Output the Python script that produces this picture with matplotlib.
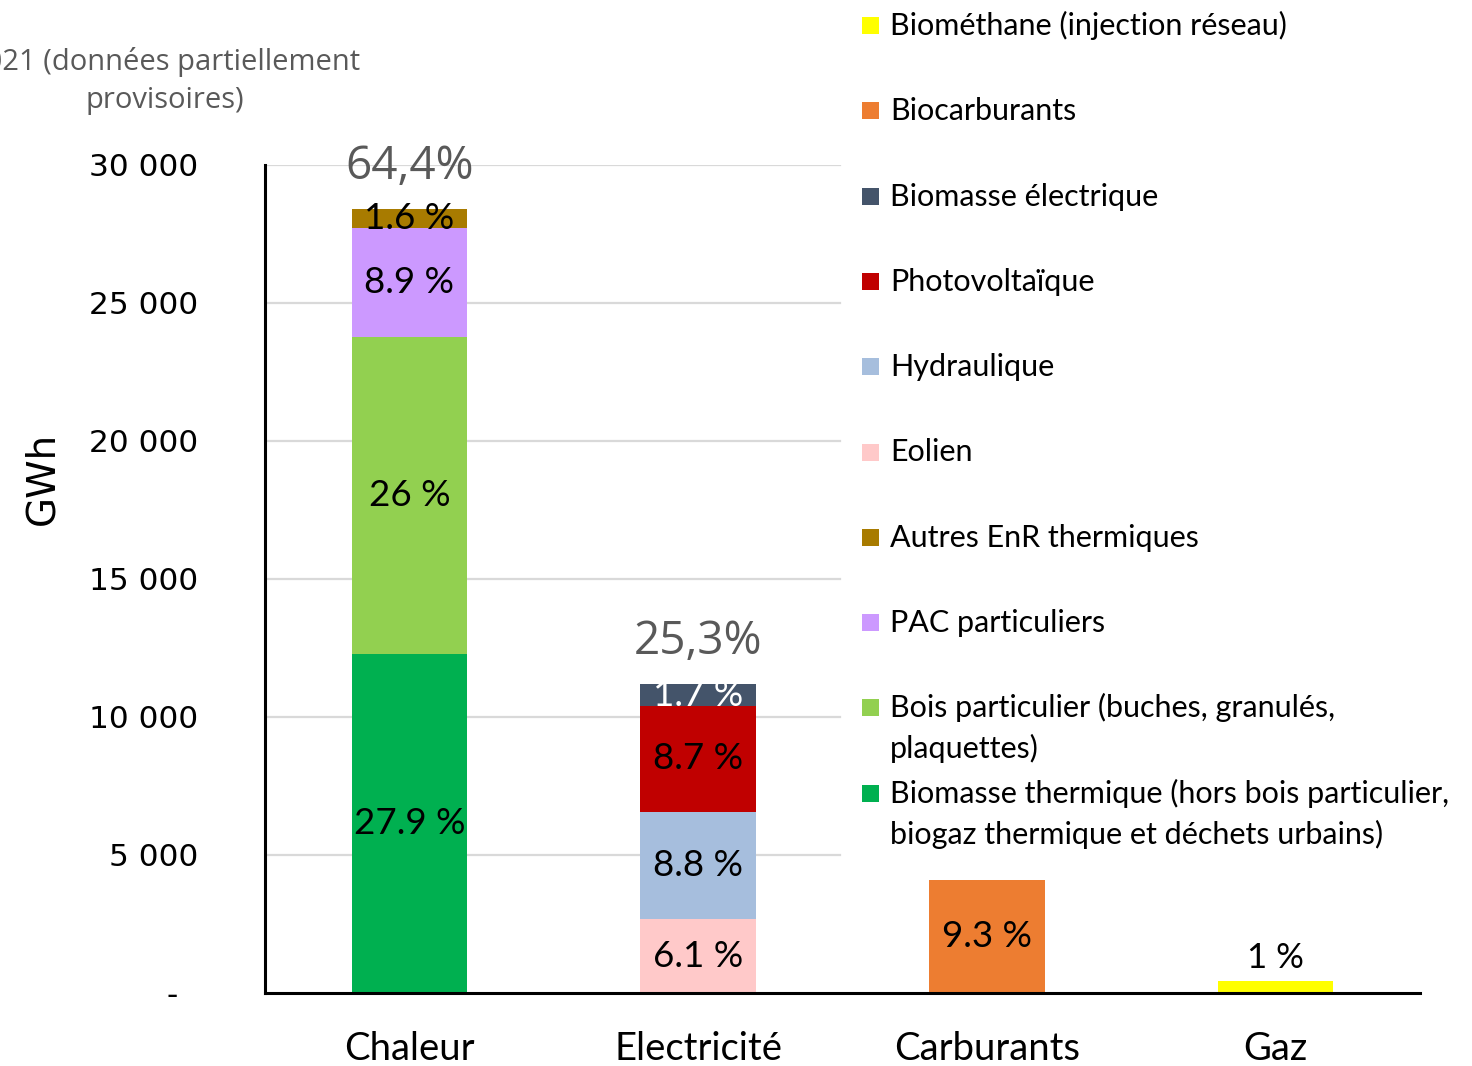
import matplotlib
matplotlib.use('Agg')
import matplotlib.pyplot as plt
import numpy as np
from matplotlib.patches import Rectangle

# ── Data (GWh) ────────────────────────────────────────────────────────────────
categories = ['Chaleur', 'Electricité', 'Carburants', 'Gaz']

series_names = [
    'Biomasse thermique (hors bois particulier,\nbiogaz thermique et déchets urbains)',
    'Bois particulier (buches, granulés,\nplaquettes)',
    'PAC particuliers',
    'Autres EnR thermiques',
    'Eolien',
    'Hydraulique',
    'Photovoltaïque',
    'Biomasse électrique',
    'Biocarburants',
    'Biométhane (injection réseau)',
]
biomasse_thermique = [12300, 0, 0, 0]
bois_particulier   = [11450, 0, 0, 0]
pac_particuliers   = [3950, 0, 0, 0]
autres_enr         = [700, 0, 0, 0]
eolien             = [0, 2680, 0, 0]
hydraulique        = [0, 3880, 0, 0]
photovoltaique     = [0, 3850, 0, 0]
biomasse_elec      = [0, 770, 0, 0]
biocarburants      = [0, 0, 4100, 0]
biomethane         = [0, 0, 0, 450]

series_values = [biomasse_thermique, bois_particulier, pac_particuliers, autres_enr,
                 eolien, hydraulique, photovoltaique, biomasse_elec,
                 biocarburants, biomethane]
seg_labels = ['27.9 %', '26 %', '8.9 %', '1.6 %', '6.1 %', '8.8 %', '8.7 %',
              '1.7 %', '9.3 %', '1 %']
total_labels = {0: '64,4%', 1: '25,3%'}

colors = ['#00B050', '#92D050', '#CC99FF', '#A87B00', '#FFC9C9',
          '#A6BEDD', '#C00000', '#44546A', '#ED7D31', '#FFFF00']
label_colors = ['black'] * 7 + ['white'] + ['black'] * 2

# ── Figure ────────────────────────────────────────────────────────────────────
W, H = 1472, 1066
fig = plt.figure(figsize=(W / 100, H / 100), dpi=100)
ax = fig.add_axes([265 / W, 1 - 993 / H, 1155 / W, 828 / H])

x = np.arange(len(categories))
bottom = np.zeros(len(categories))
for vals, col, lab, lcol in zip(series_values, colors, seg_labels, label_colors):
    vals = np.array(vals, dtype=float)
    ax.bar(x, vals, width=0.4, bottom=bottom, color=col, edgecolor='none', zorder=3)
    i = int(np.argmax(vals))
    if vals[i] < 600 and bottom[i] == 0:
        # thin bar: label sits above it
        ax.annotate(lab, (x[i], vals[i]), xytext=(0, 5), textcoords='offset points',
                    ha='center', va='bottom', fontsize=25, family='Lato',
                    color=lcol, zorder=5)
    else:
        ax.text(x[i], bottom[i] + vals[i] / 2, lab, ha='center', va='center',
                fontsize=26.5, family='Lato', color=lcol, zorder=5)
    bottom += vals

for i, txt in total_labels.items():
    ax.annotate(txt, (x[i], bottom[i]), xytext=(0, 22), textcoords='offset points',
                ha='center', va='baseline', fontsize=33, family='Open Sans',
                color='#595959', zorder=5)

# ── Axes ──────────────────────────────────────────────────────────────────────
ax.set_xlim(-0.5, 3.5)
ax.set_ylim(0, 30000)
yticks = np.arange(0, 30001, 5000)
ax.set_yticks(yticks)
ax.set_yticklabels(['-  '] + [f'{v:,}'.replace(',', ' ') for v in yticks[1:]],
                   fontsize=22.5, family='DejaVu Sans')
ax.set_xticks(x)
ax.set_xticklabels(categories, fontsize=27.5, family='Lato')
ax.tick_params(axis='y', length=0, pad=48)
ax.tick_params(axis='x', length=0, pad=27)

# gridlines stop where the legend begins
for v in yticks[1:]:
    ax.axhline(v, xmin=0, xmax=0.498, color='#D9D9D9', linewidth=1.6, zorder=1)

for side in ['top', 'right']:
    ax.spines[side].set_visible(False)
for side in ['left', 'bottom']:
    ax.spines[side].set_linewidth(2.2)
    ax.spines[side].set_zorder(4)

ax.set_ylabel('GWh', fontsize=28, family='DejaVu Sans')
ax.yaxis.set_label_coords(-0.176, 0.622)

# ── Title (partly cut on the left, as in the source) ─────────────────────────
fig.text(165 / W, 1 - 81 / H, '2021 (données partiellement\nprovisoires)',
         ha='center', va='center', fontsize=21, family='Open Sans',
         color='#595959', linespacing=1.42)

# ── Legend (top = last series) ───────────────────────────────────────────────
pitch = 85.3
line_gap = 41
for k, (name, col) in enumerate(zip(series_names[::-1], colors[::-1])):
    base = 35 + k * pitch
    fig.patches.append(Rectangle((862 / W, 1 - (base - 1) / H), 17 / W, 17 / H,
                                 transform=fig.transFigure, facecolor=col,
                                 edgecolor='none'))
    for j, line in enumerate(name.split('\n')):
        fig.text(890 / W, 1 - (base + j * line_gap) / H, line, ha='left',
                 va='baseline', fontsize=22, family='Lato', color='black')

fig.savefig('out.png', dpi=100, facecolor='white')
